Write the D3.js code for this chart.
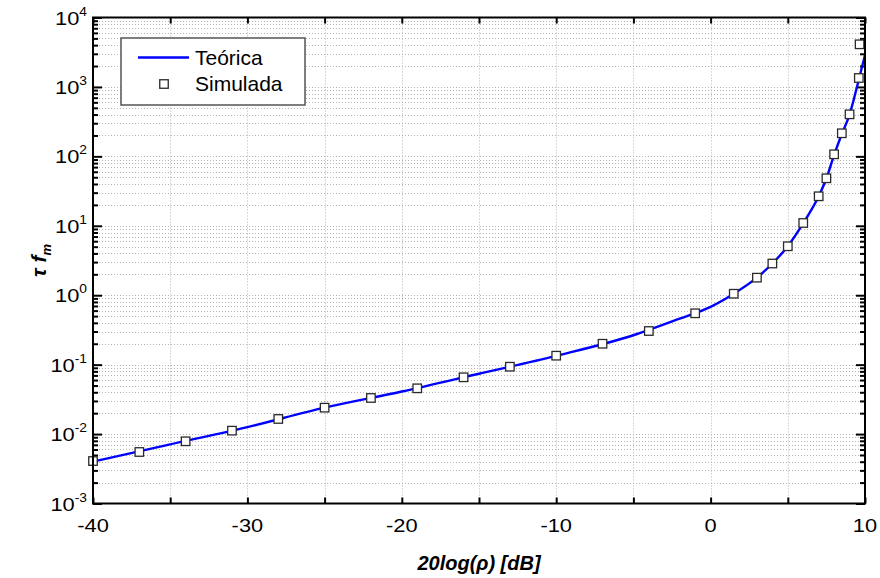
<!DOCTYPE html>
<html>
<head>
<meta charset="utf-8">
<script src="https://cdn.jsdelivr.net/npm/d3@7"></script>
<style>
  body { margin: 0; background: #fff; }
  text { font-family: "Liberation Sans", Arial, sans-serif; fill: #000; }
</style>
</head>
<body>
<svg id="chart" width="880" height="578"></svg>
<script>
// Theoretical curve: normalised duration vs threshold level (dB)
const theoryDb  = [-40, -35, -30, -25, -20, -15, -10, -5, -2, 0, 1.5, 3, 4, 5, 6, 7, 7.5, 8, 8.5, 9, 9.5, 10];
const theoryVal = [0.0040, 0.0071, 0.0126, 0.0240, 0.0410, 0.0740, 0.134, 0.265, 0.46, 0.68, 1.05, 1.79, 2.86, 5.07, 10.9, 26.6, 48, 105, 210, 400, 1040, 2880];

// Simulated points
const simDb  = [-40, -37, -34, -31, -28, -25, -22, -19, -16, -13, -10, -7, -4, -1, 1.5, 3, 4, 5, 6, 7, 7.5, 8, 8.5, 9, 9.6, 9.65];
const simVal = [0.00409, 0.00552, 0.00787, 0.0112, 0.0165, 0.0240, 0.0331, 0.0456, 0.0657, 0.0934, 0.1346, 0.200, 0.305, 0.549, 1.05, 1.79, 2.86, 5.07, 10.97, 26.6, 48.3, 107, 215, 403, 1345, 4110];

// Axis ticks and labels
const xTickValues = [-40, -30, -20, -10, 0, 10];
const xTickLabels = ["-40", "-30", "-20", "-10", "0", "10"];
const xMinorTicks = [-35, -25, -15, -5, 5];
const yDecades   = [1e-3, 1e-2, 1e-1, 1e0, 1e1, 1e2, 1e3, 1e4];
const yExponents = ["-3", "-2", "-1", "0", "1", "2", "3", "4"];
const legendLabels = ["Teórica", "Simulada"];

const svg = d3.select("#chart");
const L = 93, R = 865, T = 17.5, B = 503.5;

const x = d3.scaleLinear().domain([-40, 10]).range([L, R]);
const y = d3.scaleLog().domain([1e-3, 1e4]).range([B, T]);

// minor log positions (2..9 within each decade)
const yMinor = [];
yDecades.slice(0, -1).forEach(d => { for (let k = 2; k <= 9; k++) yMinor.push(k * d); });

// grid
const grid = svg.append("g").attr("stroke", "#b4b4b4").attr("stroke-width", 1)
  .attr("stroke-dasharray", "1,2").attr("fill", "none");
grid.selectAll("line.v").data(xTickValues.concat(xMinorTicks).filter(v => v > -40 && v < 10))
  .join("line").attr("x1", d => Math.round(x(d)) + 0.5).attr("x2", d => Math.round(x(d)) + 0.5)
  .attr("y1", T).attr("y2", B);
grid.selectAll("line.h").data(yDecades.concat(yMinor).filter(v => v > 1e-3 && v < 1e4))
  .join("line").attr("y1", d => Math.round(y(d)) + 0.5).attr("y2", d => Math.round(y(d)) + 0.5)
  .attr("x1", L).attr("x2", R);

// ticks through d3 axes (inward)
function tickAxis(axisFn, scale, values, size, transform) {
  const g = svg.append("g").attr("transform", transform)
    .call(axisFn(scale).tickValues(values).tickSize(size).tickFormat(""));
  g.select(".domain").remove();
  g.selectAll(".tick line").attr("stroke", "#000").attr("stroke-width", 2);
  return g;
}
const xAll = xTickValues.concat(xMinorTicks);
tickAxis(d3.axisBottom, x, xAll, -6, `translate(0,${B})`);
tickAxis(d3.axisTop, x, xAll, -6, `translate(0,${T})`);
tickAxis(d3.axisLeft, y, yDecades, -9, `translate(${L},0)`);
tickAxis(d3.axisLeft, y, yMinor, -5, `translate(${L},0)`);
tickAxis(d3.axisRight, y, yDecades, -9, `translate(${R},0)`);
tickAxis(d3.axisRight, y, yMinor, -5, `translate(${R},0)`);

// theoretical curve
const line = d3.line().x(d => x(d[0])).y(d => y(d[1])).curve(d3.curveMonotoneX);
svg.append("path").datum(d3.zip(theoryDb, theoryVal))
  .attr("d", line).attr("fill", "none").attr("stroke", "#0000ff").attr("stroke-width", 2.4);

// simulated markers
const ms = 8.5;
svg.append("g").selectAll("rect").data(d3.zip(simDb, simVal)).join("rect")
  .attr("x", d => x(d[0]) - ms / 2).attr("y", d => y(d[1]) - ms / 2)
  .attr("width", ms).attr("height", ms)
  .attr("fill", "#fff").attr("stroke", "#2a2a2a").attr("stroke-width", 1.3);

// frame
svg.append("rect").attr("x", L).attr("y", T).attr("width", R - L).attr("height", B - T)
  .attr("fill", "none").attr("stroke", "#000").attr("stroke-width", 2);

// x tick labels
svg.append("g").selectAll("text").data(d3.zip(xTickValues, xTickLabels)).join("text")
  .attr("transform", d => `translate(${x(d[0])},${B + 28}) scale(1.15,1)`)
  .attr("text-anchor", "middle").attr("font-size", 19).text(d => d[1]);

// y tick labels: 10 with superscript exponent
const yl = svg.append("g").selectAll("g").data(d3.zip(yDecades, yExponents)).join("g")
  .attr("transform", d => `translate(${L - 6},${y(d[0]) + 7}) scale(1.15,1)`);
yl.append("text").attr("text-anchor", "end").attr("font-size", 19)
  .each(function (d) {
    const t = d3.select(this);
    t.append("tspan").text("10");
    t.append("tspan").attr("font-size", 12).attr("dy", -9).text(d[1]);
  });

// axis titles
svg.append("text").attr("x", (L + R) / 2).attr("y", 570).attr("text-anchor", "middle")
  .attr("font-size", 20).attr("font-weight", "bold").attr("font-style", "italic")
  .text("20log(ρ) [dB]");

const yt = svg.append("text").attr("transform", `translate(46,${(T + B) / 2}) rotate(-90)`)
  .attr("text-anchor", "middle").attr("font-size", 21).attr("font-weight", "bold").attr("font-style", "italic");
yt.append("tspan").text("τ ");
yt.append("tspan").text("f");
yt.append("tspan").attr("font-size", 13).attr("dy", 5).text("m");

// legend
const lg = svg.append("g");
lg.append("rect").attr("x", 121).attr("y", 38).attr("width", 184).attr("height", 67)
  .attr("fill", "#fff").attr("stroke", "#555").attr("stroke-width", 1.5);
lg.append("line").attr("x1", 138).attr("x2", 189).attr("y1", 57.5).attr("y2", 57.5)
  .attr("stroke", "#0000ff").attr("stroke-width", 2.4);
lg.append("rect").attr("x", 164 - ms / 2).attr("y", 84 - ms / 2).attr("width", ms).attr("height", ms)
  .attr("fill", "#fff").attr("stroke", "#2a2a2a").attr("stroke-width", 1.3);
lg.selectAll("text.lab").data(legendLabels).join("text")
  .attr("x", 195).attr("y", (d, i) => 65 + i * 25.5).attr("font-size", 21).text(d => d);
</script>
</body>
</html>
